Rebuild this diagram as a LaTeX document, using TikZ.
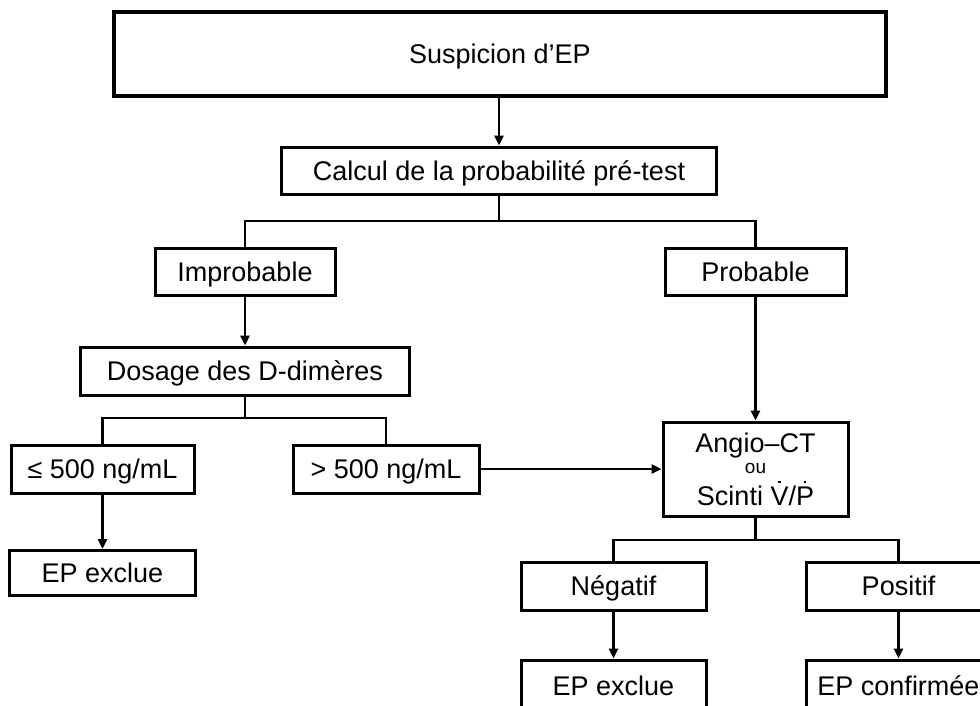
\documentclass[tikz,border=0pt]{standalone}
\usepackage{fontspec}
\setmainfont{Liberation Sans}
\usetikzlibrary{arrows.meta}
\newcommand\dotcap[1]{\leavevmode\setbox0=\hbox{#1}\hbox to \wd0{\hss\smash{\raisebox{0.80em}{\rule{0.1em}{0.1em}}}\hss}\kern-\wd0\box0}
\begin{document}
\begin{tikzpicture}[x=1pt,y=-1pt,
  box/.style={draw, line width=3pt, inner sep=0pt, text height=19pt, text depth=-2pt, font=\fontsize{27}{32}\selectfont},
  txt/.style={inner sep=0pt, font=\fontsize{27}{32}\selectfont},
  conn/.style={line width=2.5pt},
  arr/.style={line width=2.5pt, -{Triangle[length=10pt,width=9pt]}}]
\useasboundingbox (0,0) rectangle (980,705);
\fill[white] (0,0) rectangle (980,705);
\clip (0,0) rectangle (980,705);
% nodes
\node[box, minimum width=772pt, minimum height=84pt, line width=3.5pt] (top) at (500,54) {Suspicion d’EP};
\node[box, minimum width=435pt, minimum height=47pt] (calc) at (499,170.5) {Calcul de la probabilité pré-test};
\coordinate (b1) at (0,221);
\node[box, minimum width=180pt, minimum height=47pt] (improb) at (245,271.5) {Improbable};
\node[box, minimum width=181pt, minimum height=47pt] (prob) at (755.5,271.5) {Probable};
\node[box, minimum width=329pt, minimum height=48pt] (dosage) at (245,371) {Dosage des D-dimères};
\coordinate (b2) at (0,418);
\node[box, minimum width=183pt, minimum height=48pt] (le) at (102.5,469) {≤ 500 ng/mL};
\node[box, minimum width=186pt, minimum height=48pt] (gt) at (386,469) {> 500 ng/mL};
\node[box, minimum width=185pt, minimum height=94pt] (angio) at (755.5,469) {};
\node[txt, anchor=base] (angioA) at (755.5,452) {Angio–CT};
\node[txt, anchor=base, font=\fontsize{19}{22}\selectfont] (angioB) at (755.5,473) {ou};
\node[txt, anchor=base] (angioC) at (755.5,505) {Scinti \dotcap{V}/\dotcap{P}};
\coordinate (b3) at (0,540);
\node[box, minimum width=186pt, minimum height=45pt] (ex1) at (102.5,573) {EP exclue};
\node[box, minimum width=185pt, minimum height=48pt] (neg) at (613.5,586) {Négatif};
\node[box, minimum width=185pt, minimum height=48pt] (pos) at (898.5,586) {Positif};
\node[box, minimum width=185pt, minimum height=52pt] (ex2) at (613.5,686) {EP exclue};
\node[box, minimum width=185pt, minimum height=52pt] (conf) at (898.5,686) {EP confirmée};
% connectors
\draw[arr] (top.south -| calc.north) -- (calc.north);
\draw[conn] (calc.south) -- (calc.south |- b1);
\draw[conn] (improb.north) -- (improb.north |- b1) -- (prob.north |- b1) -- (prob.north);
\draw[arr] (improb.south) -- (dosage.north);
\draw[conn] (dosage.south) -- (dosage.south |- b2);
\draw[conn] (le.north) -- (le.north |- b2) -- (gt.north |- b2) -- (gt.north);
\draw[arr] (le.south) -- (ex1.north);
\draw[arr] (gt.east) -- (angio.west);
\draw[arr] (prob.south) -- (angio.north);
\draw[conn] (angio.south) -- (angio.south |- b3);
\draw[conn] (neg.north) -- (neg.north |- b3) -- (pos.north |- b3) -- (pos.north);
\draw[arr] (neg.south) -- (ex2.north);
\draw[arr] (pos.south) -- (conf.north);
\end{tikzpicture}
\end{document}
